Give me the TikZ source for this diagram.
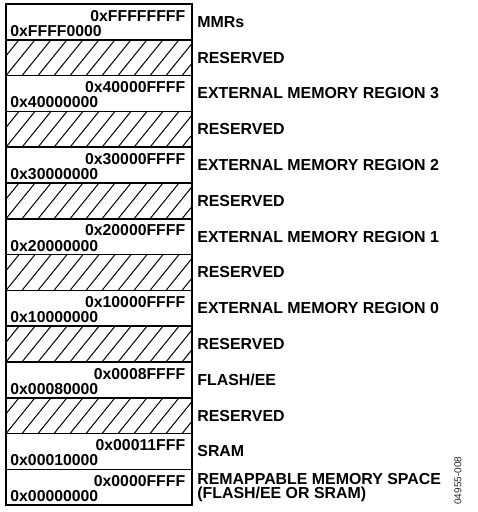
\documentclass[tikz,border=0pt]{standalone}
\usepackage{fontspec}
\setmainfont{Liberation Sans}
\usetikzlibrary{positioning}

\tikzset{
  memrow/.style={draw, line width=0.8pt, minimum width=93pt, minimum height=17.9pt,
    inner sep=0pt, outer sep=0pt},
  resrow/.style={memrow, path picture={
      \foreach \k in {-2,...,12}
        \draw[line width=0.5pt] ([xshift=\k*8pt]path picture bounding box.south west) -- ++(14.5pt,17.9pt);
    }},
  addrhi/.style={font=\bfseries\fontsize{7.9}{8}\selectfont, inner sep=0pt, anchor=north east},
  addrlo/.style={font=\bfseries\fontsize{7.9}{8}\selectfont, inner sep=0pt, anchor=south west},
  regionlbl/.style={font=\bfseries\fontsize{7.95}{6.8}\selectfont, inner sep=0pt, anchor=west, align=left},
}

\begin{document}
\begin{tikzpicture}
  \useasboundingbox (0,0) rectangle (238.5pt,256pt);
  % memory rows, top to bottom
  \node[memrow, anchor=north west] (mmr) at (3pt,254pt) {};
  \node[resrow, below=0pt of mmr] (res6) {};
  \node[memrow, below=0pt of res6] (ext3) {};
  \node[resrow, below=0pt of ext3] (res5) {};
  \node[memrow, below=0pt of res5] (ext2) {};
  \node[resrow, below=0pt of ext2] (res4) {};
  \node[memrow, below=0pt of res4] (ext1) {};
  \node[resrow, below=0pt of ext1] (res3) {};
  \node[memrow, below=0pt of res3] (ext0) {};
  \node[resrow, below=0pt of ext0] (res2) {};
  \node[memrow, below=0pt of res2] (flash) {};
  \node[resrow, below=0pt of flash] (res1) {};
  \node[memrow, below=0pt of res1] (sram) {};
  \node[memrow, below=0pt of sram] (remap) {};
  % addresses
  \foreach \r/\hi/\lo in {mmr/0xFFFFFFFF/0xFFFF0000, ext3/0x40000FFFF/0x40000000,
      ext2/0x30000FFFF/0x30000000, ext1/0x20000FFFF/0x20000000,
      ext0/0x10000FFFF/0x10000000, flash/0x0008FFFF/0x00080000,
      sram/0x00011FFF/0x00010000, remap/0x0000FFFF/0x00000000} {
    \node[addrhi] (\r-hi) at ([xshift=-3.2pt, yshift=-2.8pt]\r.north east) {\hi};
    \node[addrlo] (\r-lo) at ([xshift=2pt, yshift=1.5pt]\r.south west) {\lo};
  }
  % region labels
  \foreach \r/\txt in {mmr/MMRs, res6/RESERVED, ext3/EXTERNAL MEMORY REGION 3,
      res5/RESERVED, ext2/EXTERNAL MEMORY REGION 2, res4/RESERVED,
      ext1/EXTERNAL MEMORY REGION 1, res3/RESERVED, ext0/EXTERNAL MEMORY REGION 0,
      res2/RESERVED, flash/{FLASH/EE}, res1/RESERVED, sram/SRAM} {
    \node[regionlbl, right=2.5pt of \r] (\r-lbl) {\txt};
  }
  \node[regionlbl, right=2.5pt of remap] (remap-lbl) {REMAPPABLE MEMORY SPACE\\(FLASH/EE OR SRAM)};
  % figure number
  \node[rotate=90, anchor=west, inner sep=0pt, text=black!85, font=\fontsize{5}{5}\selectfont]
    (fignum) at (229pt,3.5pt) {04955-008};
\end{tikzpicture}
\end{document}
